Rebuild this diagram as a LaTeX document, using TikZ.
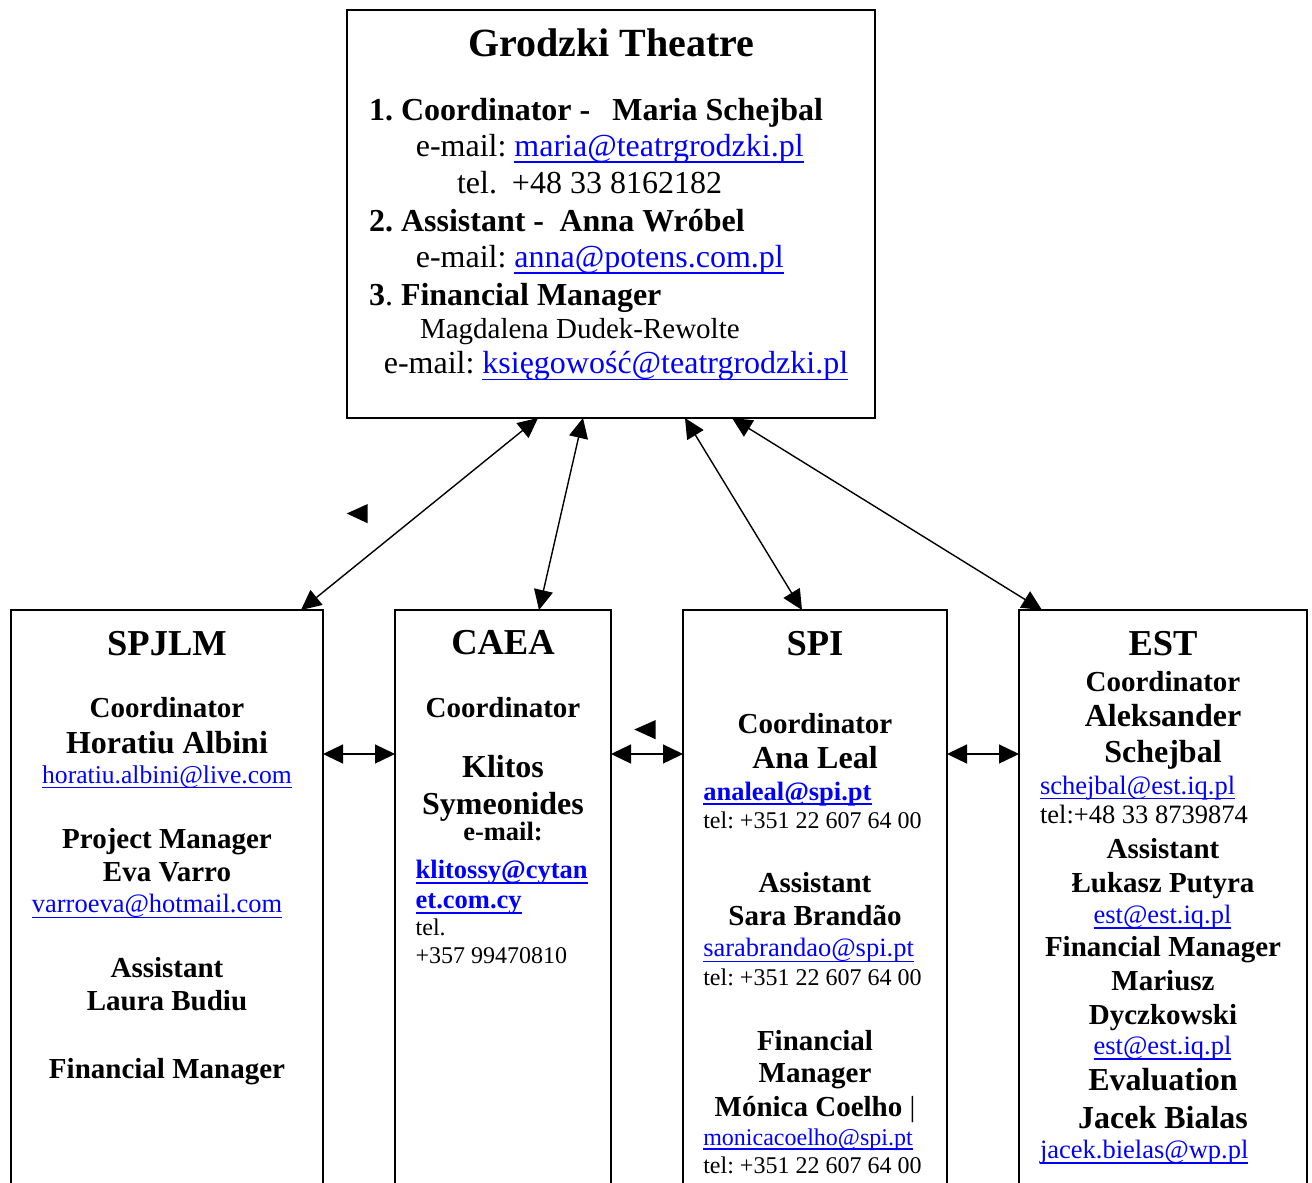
\documentclass[tikz,border=0pt]{standalone}
\usepackage{fontspec}
\setmainfont{Liberation Serif}
\usetikzlibrary{arrows.meta,calc}
\definecolor{lnkblue}{RGB}{0,0,255}
\frenchspacing
\newcommand\lnk[2][0.055em]{\textcolor{lnkblue}{\setbox0\hbox{#2}\rlap{\rule[-0.2em]{\wd0}{#1}}\box0}}
\tikzset{
  box/.style={draw, line width=1pt, rectangle, inner sep=0pt, outer sep=0pt, anchor=north west},
  tx/.style={inner sep=0pt, outer sep=0pt, anchor=base},
  txl/.style={inner sep=0pt, outer sep=0pt, anchor=base west},
  ttl/.style={font=\fontsize{18.25pt}{21pt}\selectfont\bfseries},
  role/.style={font=\fontsize{14.5pt}{17pt}\selectfont\bfseries},
  nm/.style={font=\fontsize{16pt}{19pt}\selectfont\bfseries},
  lk/.style={font=\fontsize{13.25pt}{15pt}\selectfont},
  lkb/.style={font=\fontsize{13.25pt}{15pt}\selectfont\bfseries},
  sm/.style={font=\fontsize{12pt}{14pt}\selectfont},
  big/.style={font=\fontsize{16pt}{19pt}\selectfont},
  dar/.style={line width=0.7pt, {Triangle[length=10pt,width=9.5pt]}-{Triangle[length=10pt,width=9.5pt]}},
}
\begin{document}
\begin{tikzpicture}[x=0.5pt,y=-0.5pt]
\useasboundingbox (0,0) rectangle (1312,1183);
\fill[white] (0,0) rectangle (1312,1183);
\clip (0,0) rectangle (1312,1183);

% ---------- boxes ----------
\node[box, minimum width=264pt, minimum height=204pt] (top) at (347,10) {};
\node[box, minimum width=156pt, minimum height=295pt] (spjlm) at (11,610) {};
\node[box, minimum width=108pt, minimum height=295pt] (caea) at (395,610) {};
\node[box, minimum width=132pt, minimum height=295pt] (spi) at (683,610) {};
\node[box, minimum width=144pt, minimum height=295pt] (est) at (1019,610) {};

% ---------- top box ----------
\node[tx, font=\fontsize{20pt}{24pt}\selectfont\bfseries] (tt) at (611.5,56.8) {Grodzki Theatre};
\node[txl, big] (t1) at (369,120.4) {\bfseries 1. Coordinator -\hspace{11pt}Maria Schejbal};
\node[txl, big] (t2) at (415.8,156.5) {e-mail: \lnk{maria@teatrgrodzki.pl}};
\node[txl, big] (t3) at (457,193.3) {tel.\hspace{7.5pt}+48 33 8162182};
\node[txl, big] (t4) at (369,231.4) {\bfseries 2. Assistant -\hspace{7.75pt}Anna Wróbel};
\node[txl, big] (t5) at (415.8,267.5) {e-mail: \lnk{anna@potens.com.pl}};
\node[txl, big] (t6) at (369,305) {\textbf{3}.\textbf{ Financial Manager}};
\node[txl, font=\fontsize{14.5pt}{17pt}\selectfont] (t7) at (420,338.4) {Magdalena Dudek-Rewolte};
\node[txl, big] (t8) at (383.8,373.9) {e-mail: \lnk{księgowość@teatrgrodzki.pl}};

% ---------- SPJLM ----------
\node[tx, ttl] (s0) at (167,655) {SPJLM};
\node[tx, role] (s1) at (167,717.7) {Coordinator};
\node[tx, nm] (s2) at (167,753.3) {Horatiu Albini};
\node[tx, font=\fontsize{12.8pt}{15pt}\selectfont] (s3) at (167,783.3) {\lnk{horatiu.albini@live.com}};
\node[tx, role] (s4) at (167,848.3) {Project Manager};
\node[tx, role] (s5) at (167,881.7) {Eva Varro};
\node[tx, lk] (s6) at (157,912.7) {\lnk{varroeva@hotmail.com}};
\node[tx, role] (s7) at (167,977.7) {Assistant};
\node[tx, role] (s8) at (167,1010) {Laura Budiu};
\node[tx, role] (s9) at (167,1078.3) {Financial Manager};

% ---------- CAEA ----------
\node[tx, ttl] (c0) at (503,654.3) {CAEA};
\node[tx, role] (c1) at (503,717.7) {Coordinator};
\node[tx, nm] (c2) at (503,777.3) {Klitos};
\node[tx, nm] (c3) at (503,814) {Symeonides};
\node[tx, lkb] (c4) at (503,840.7) {e-mail:};
\node[txl, lkb] (c5) at (415.7,878.3) {\lnk[0.075em]{klitossy@cytan}};
\node[txl, lkb] (c6) at (415.7,908.3) {\lnk[0.075em]{et.com.cy}};
\node[txl, sm] (c7) at (415.7,935.7) {tel.};
\node[txl, sm] (c8) at (415.7,963.3) {+357 99470810};

% ---------- SPI ----------
\node[tx, ttl] (p0) at (815,655) {SPI};
\node[tx, role] (p1) at (815,733.3) {Coordinator};
\node[tx, nm] (p2) at (815,768.3) {Ana Leal};
\node[txl, lkb] (p3) at (703.3,800) {\lnk[0.075em]{analeal@spi.pt}};
\node[txl, sm] (p4) at (703.3,828.3) {tel: +351 22 607 64 00};
\node[tx, role] (p5) at (815,892.7) {Assistant};
\node[tx, role] (p6) at (815,925) {Sara Brandão};
\node[txl, lk] (p7) at (703.3,956.7) {\lnk{sarabrandao@spi.pt}};
\node[txl, sm] (p8) at (703.3,985) {tel: +351 22 607 64 00};
\node[tx, role] (p9) at (815,1050) {Financial};
\node[tx, role] (p10) at (815,1082.7) {Manager};
\node[tx, role] (p11) at (815,1116) {Mónica Coelho \mdseries|};
\node[txl, sm] (p12) at (703.3,1145) {\lnk{monicacoelho@spi.pt}};
\node[txl, sm] (p13) at (703.3,1173.3) {tel: +351 22 607 64 00};

% ---------- EST ----------
\node[tx, ttl] (e0) at (1163,655) {EST};
\node[tx, role] (e1) at (1163,691) {Coordinator};
\node[tx, nm] (e2) at (1163,726.7) {Aleksander};
\node[tx, nm] (e3) at (1163,762.7) {Schejbal};
\node[txl, lk] (e4) at (1040,794) {\lnk{schejbal@est.iq.pl}};
\node[txl, lk] (e5) at (1040,823.3) {tel:+48 33 8739874};
\node[tx, role] (e6) at (1163,858.3) {Assistant};
\node[tx, role] (e7) at (1163,892.7) {Łukasz Putyra};
\node[tx, lk] (e8) at (1162.5,923.3) {\lnk{est@est.iq.pl}};
\node[tx, role] (e9) at (1163,956.7) {Financial Manager};
\node[tx, role] (e10) at (1163,990) {Mariusz};
\node[tx, role] (e11) at (1163,1024.3) {Dyczkowski};
\node[tx, lk] (e12) at (1162.5,1054.3) {\lnk{est@est.iq.pl}};
\node[tx, nm] (e13) at (1163,1090) {Evaluation};
\node[tx, nm] (e14) at (1163,1128.3) {Jacek Bialas};
\node[txl, lk] (e15) at (1040,1158.3) {\lnk{jacek.bielas@wp.pl}};

% ---------- connectors ----------
\draw[dar] ($(top.south west)+(191,0)$) -- ($(spjlm.north west)+(290,0)$);
\draw[dar] ($(top.south west)+(236,0)$) -- ($(caea.north west)+(144,0)$);
\draw[dar] ($(top.south west)+(338,0)$) -- ($(spi.north west)+(119,0)$);
\draw[dar] ($(top.south west)+(385,0)$) -- ($(est.north west)+(23,0)$);

\draw[dar] ($(spjlm.north east)+(0,144)$) -- ($(caea.north west)+(0,144)$);
\draw[dar] ($(caea.north east)+(0,144)$) -- ($(spi.north west)+(0,144)$);
\draw[dar] ($(spi.north east)+(0,144)$) -- ($(est.north west)+(0,144)$);

% ---------- stray arrowheads ----------
\fill (367.7,504) -- (346.7,513.5) -- (367.7,523.3) -- cycle;
\fill (655.7,720) -- (634.3,729.5) -- (655.7,739.3) -- cycle;
\end{tikzpicture}
\end{document}
